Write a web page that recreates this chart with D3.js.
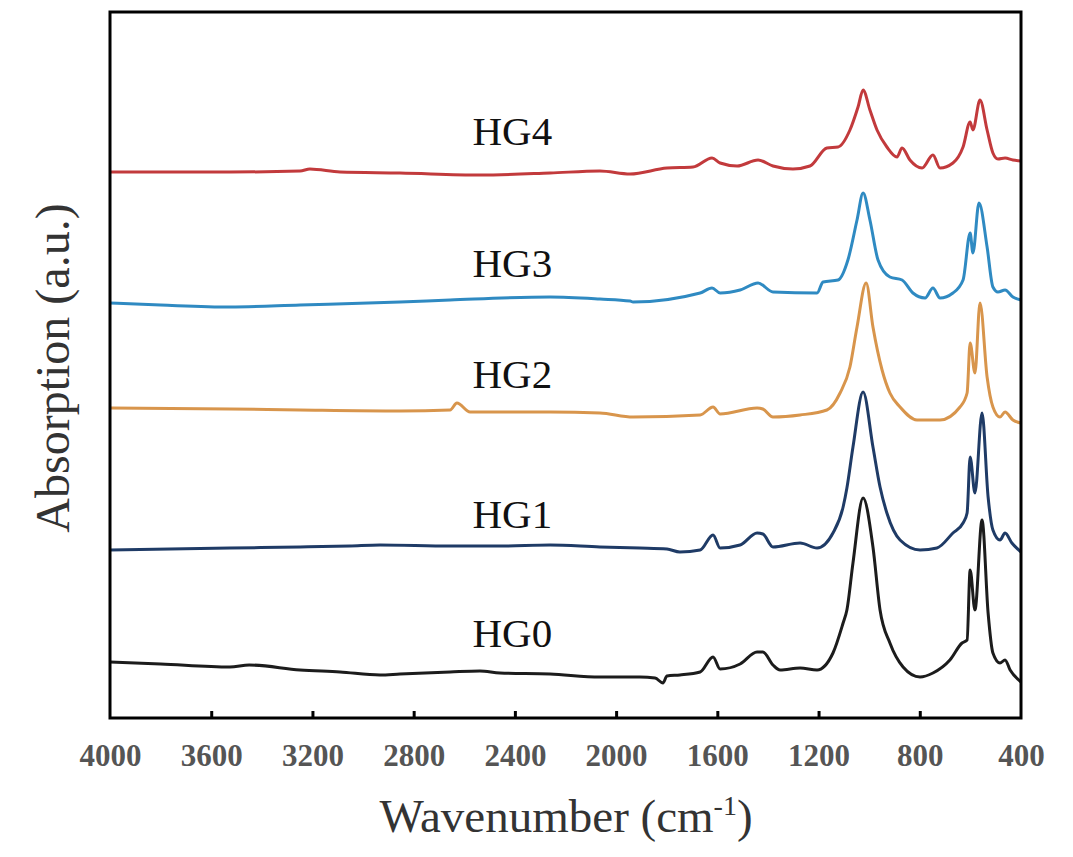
<!DOCTYPE html>
<html>
<head>
<meta charset="utf-8">
<script src="https://cdn.jsdelivr.net/npm/d3@7"></script>
<style>
  body { margin: 0; background: #fff; }
  svg { display: block; }
</style>
</head>
<body>
<svg id="chart" width="1073" height="857"></svg>
<script>
// spectra as [wavenumber (cm-1), absorption (a.u., stacked offset)]
var hg0 = [[4000,0.56],[3800,0.54],[3526,0.51],[3450,0.53],[3249,0.48],[3091,0.46],[2933,0.43],[2854,0.44],[2656,0.46],[2538,0.47],[2459,0.45],[2261,0.44],[2064,0.41],[1906,0.41],[1846,0.40],[1815,0.35],[1799,0.42],[1748,0.43],[1668,0.46],[1617,0.61],[1589,0.49],[1510,0.54],[1443,0.66],[1420,0.66],[1380,0.53],[1352,0.48],[1273,0.50],[1206,0.48],[1143,0.65],[1103,0.95],[1088,1.08],[1064,1.55],[1024,2.20],[985,1.71],[957,1.08],[918,0.75],[866,0.51],[799,0.41],[748,0.45],[681,0.58],[633,0.75],[613,0.78],[601,1.48],[582,1.08],[554,1.98],[530,1.05],[511,0.65],[483,0.55],[463,0.58],[443,0.48],[400,0.36]];
var hg1 = [[4000,1.68],[3526,1.70],[3249,1.71],[3052,1.72],[2933,1.73],[2656,1.72],[2459,1.72],[2261,1.73],[2064,1.71],[1906,1.70],[1799,1.69],[1748,1.66],[1668,1.68],[1617,1.83],[1589,1.70],[1510,1.73],[1443,1.85],[1420,1.84],[1380,1.71],[1273,1.75],[1206,1.70],[1143,1.85],[1103,2.11],[1088,2.30],[1064,2.71],[1024,3.26],[985,2.71],[957,2.31],[930,2.05],[878,1.78],[799,1.68],[732,1.70],[669,1.85],[629,1.95],[613,2.05],[601,2.61],[582,2.25],[554,3.05],[530,2.21],[511,1.88],[483,1.78],[463,1.85],[436,1.75],[400,1.66]];
var hg2 = [[4000,3.10],[3526,3.09],[3249,3.08],[2854,3.07],[2656,3.08],[2629,3.15],[2577,3.06],[2261,3.06],[2064,3.05],[1933,3.01],[1668,3.03],[1617,3.11],[1589,3.04],[1443,3.10],[1420,3.09],[1380,3.01],[1273,3.03],[1167,3.08],[1115,3.25],[1076,3.51],[1048,3.91],[1012,4.35],[985,3.91],[949,3.48],[918,3.25],[878,3.11],[811,2.98],[720,2.98],[641,3.11],[613,3.25],[601,3.75],[582,3.45],[562,4.15],[534,3.41],[511,3.11],[483,3.01],[463,3.06],[432,2.98],[400,2.95]];
var hg3 = [[4000,4.15],[3800,4.13],[3526,4.11],[3249,4.13],[2854,4.16],[2656,4.18],[2261,4.21],[2064,4.19],[1945,4.17],[1933,4.16],[1668,4.25],[1621,4.30],[1589,4.25],[1510,4.28],[1439,4.35],[1380,4.26],[1206,4.25],[1182,4.36],[1123,4.38],[1084,4.58],[1048,4.98],[1024,5.25],[997,4.98],[965,4.58],[918,4.41],[870,4.38],[827,4.25],[779,4.20],[748,4.30],[720,4.20],[669,4.25],[629,4.38],[601,4.85],[590,4.65],[566,5.15],[534,4.71],[511,4.31],[491,4.26],[463,4.28],[432,4.21],[400,4.18]];
var hg4 = [[4000,5.46],[3526,5.46],[3249,5.47],[3210,5.49],[3091,5.46],[2854,5.45],[2538,5.43],[2261,5.45],[2064,5.47],[1945,5.44],[1799,5.50],[1696,5.51],[1621,5.60],[1589,5.55],[1522,5.52],[1439,5.58],[1380,5.52],[1301,5.49],[1234,5.52],[1167,5.70],[1123,5.71],[1076,5.88],[1044,6.11],[1024,6.28],[997,6.08],[969,5.88],[930,5.71],[890,5.61],[870,5.70],[839,5.58],[791,5.50],[748,5.63],[720,5.50],[669,5.55],[629,5.71],[601,5.96],[590,5.88],[562,6.18],[534,5.88],[511,5.65],[491,5.59],[463,5.60],[432,5.58],[400,5.57]];

var seriesNames = ["HG0", "HG1", "HG2", "HG3", "HG4"];
var seriesColors = ["#1c1c1c", "#1f3b66", "#d8954c", "#2f8ac2", "#c23a3c"];
// label baseline anchor: [wavenumber, absorption]
var labelPos = [[2410, 0.71], [2410, 1.90], [2410, 3.30], [2410, 4.41], [2410, 5.73]];
var xTicks = [4000, 3600, 3200, 2800, 2400, 2000, 1600, 1200, 800, 400];

var margin = {left: 110, right: 52, top: 12, bottom: 139};
var width = 1073 - margin.left - margin.right;
var height = 857 - margin.top - margin.bottom;

var svg = d3.select("#chart");
var g = svg.append("g").attr("transform", "translate(" + margin.left + "," + margin.top + ")");

var x = d3.scaleLinear().domain([4000, 400]).range([0, width]);
var y = d3.scaleLinear().domain([0, 7.06]).range([height, 0]);

var line = d3.line()
    .x(function (d) { return x(d[0]); })
    .y(function (d) { return y(d[1]); })
    .curve(d3.curveMonotoneX);

[hg0, hg1, hg2, hg3, hg4].forEach(function (data, i) {
    g.append("path")
        .datum(data)
        .attr("fill", "none")
        .attr("stroke", seriesColors[i])
        .attr("stroke-width", 3)
        .attr("stroke-linejoin", "round")
        .attr("d", line);
    g.append("text")
        .attr("x", x(labelPos[i][0]))
        .attr("y", y(labelPos[i][1]))
        .attr("text-anchor", "middle")
        .attr("font-family", "Liberation Serif, serif")
        .attr("font-size", 41)
        .attr("fill", "#111")
        .text(seriesNames[i]);
});

// frame
g.append("rect")
    .attr("x", 0).attr("y", 0)
    .attr("width", width).attr("height", height)
    .attr("fill", "none")
    .attr("stroke", "#000")
    .attr("stroke-width", 3);

// bottom axis, ticks pointing inward
var xAxis = d3.axisBottom(x).tickValues(xTicks).tickSize(-7).tickPadding(26).tickFormat(d3.format("d"));
var ax = g.append("g").attr("transform", "translate(0," + height + ")").call(xAxis);
ax.select(".domain").remove();
ax.selectAll(".tick line").attr("stroke", "#000").attr("stroke-width", 3)
    .filter(function (d) { return d === 4000 || d === 400; }).remove();
ax.selectAll(".tick text")
    .attr("font-family", "Liberation Serif, serif")
    .attr("font-weight", "bold")
    .attr("font-size", 31)
    .attr("fill", "#555");

// axis titles
var xt = svg.append("text")
    .attr("x", 566)
    .attr("y", 832)
    .attr("text-anchor", "middle")
    .attr("font-family", "Liberation Serif, serif")
    .attr("font-size", 47)
    .attr("fill", "#333");
xt.append("tspan").text("Wavenumber (cm");
xt.append("tspan").attr("dy", -17).attr("font-size", 28).text("-1");
xt.append("tspan").attr("dy", 17).text(")");

svg.append("text")
    .attr("transform", "translate(69," + 368 + ") rotate(-90)")
    .attr("text-anchor", "middle")
    .attr("font-family", "Liberation Serif, serif")
    .attr("font-size", 48)
    .attr("fill", "#333")
    .text("Absorption (a.u.)");
</script>
</body>
</html>
